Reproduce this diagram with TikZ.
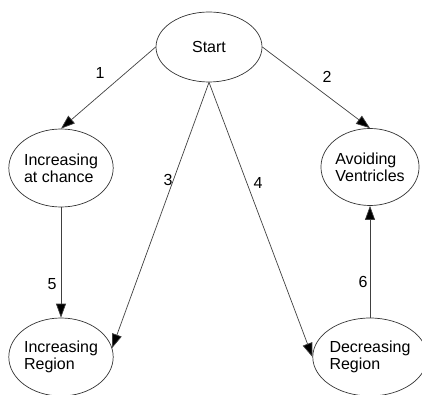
\documentclass[tikz,border=0pt]{standalone}
\usepackage{fontspec}
\setmainfont{Liberation Sans}
\usetikzlibrary{shapes.geometric,arrows.meta}
\tikzset{
  state/.style={ellipse, draw=black!80, line width=0.7pt, inner sep=0pt,
    align=left, font=\fontsize{16}{17}\selectfont},
  link/.style={draw=black!75, line width=0.7pt,
    -{Triangle[length=14pt,width=10pt,fill=black]}},
  num/.style={font=\fontsize{16}{17}\selectfont, inner sep=0pt}
}
\begin{document}
\begin{tikzpicture}[x=1pt,y=1pt]
  \useasboundingbox (0,0) rectangle (422,394);
  % states
  \node[state, minimum width=106pt, minimum height=70pt] (start) at (209,347) {Start};
  \node[state, minimum width=92pt, minimum height=78pt] (ic) at (61,226) {Increasing\\at chance};
  \node[state, minimum width=96pt, minimum height=77pt] (av) at (370,227) {Avoiding\\Ventricles};
  \node[state, minimum width=104pt, minimum height=78pt] (ir) at (61,37) {Increasing\\Region};
  \node[state, minimum width=98pt, minimum height=78pt] (dr) at (370,37) {Decreasing\\Region};
  % transitions
  \draw[link] (start.west) -- (ic.north);
  \draw[link] (start.east) -- (av.north);
  \draw[link] (start.south) -- (ir.10);
  \draw[link] (start.south) -- (dr.west);
  \draw[link] (ic.south) -- (ir.north);
  \draw[link] (dr.north) -- (av.south);
  % transition numbers
  \node[num] (n1) at (100,321) {1};
  \node[num] (n2) at (327,317) {2};
  \node[num] (n3) at (168,214) {3};
  \node[num] (n4) at (258,211) {4};
  \node[num] (n5) at (52,110) {5};
  \node[num] (n6) at (363,112) {6};
\end{tikzpicture}
\end{document}
